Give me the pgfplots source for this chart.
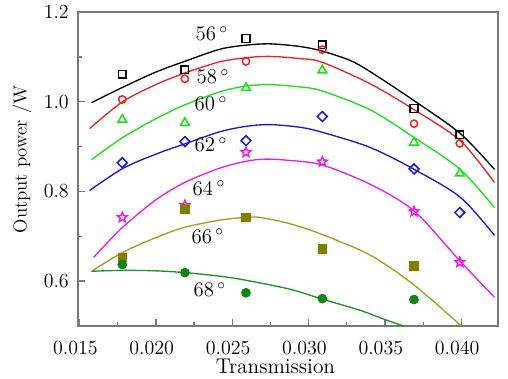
\documentclass[border=0pt]{standalone}
\usepackage{pgfplots}
\pgfplotsset{compat=1.18}
\usetikzlibrary{plotmarks}
\definecolor{framegray}{RGB}{120,120,120}
\definecolor{cred}{RGB}{235,35,35}
\definecolor{cgreen}{RGB}{25,225,25}
\definecolor{cblue}{RGB}{25,25,200}
\definecolor{cmag}{RGB}{230,30,230}
\definecolor{colive}{RGB}{128,128,0}
\definecolor{colivel}{RGB}{160,160,30}
\definecolor{cdgreen}{RGB}{20,130,20}
\definecolor{cdgreenl}{RGB}{30,145,40}
\pgfdeclareplotmark{ostar}{%
  \pgfpathmoveto{\pgfpointpolar{90}{\pgfplotmarksize}}%
  \pgfpathlineto{\pgfpointpolar{126}{0.45\pgfplotmarksize}}%
  \pgfpathlineto{\pgfpointpolar{162}{\pgfplotmarksize}}%
  \pgfpathlineto{\pgfpointpolar{198}{0.45\pgfplotmarksize}}%
  \pgfpathlineto{\pgfpointpolar{234}{\pgfplotmarksize}}%
  \pgfpathlineto{\pgfpointpolar{270}{0.45\pgfplotmarksize}}%
  \pgfpathlineto{\pgfpointpolar{306}{\pgfplotmarksize}}%
  \pgfpathlineto{\pgfpointpolar{342}{0.45\pgfplotmarksize}}%
  \pgfpathlineto{\pgfpointpolar{18}{\pgfplotmarksize}}%
  \pgfpathlineto{\pgfpointpolar{54}{0.45\pgfplotmarksize}}%
  \pgfpathclose\pgfusepathqstroke}
\begin{document}
\begin{tikzpicture}
\begin{axis}[
  scale only axis, width=252pt, height=188.4pt,
  xmin=0.0149, xmax=0.0424, ymin=0.5, ymax=1.2,
  xtick={0.015,0.020,0.025,0.030,0.035,0.040},
  minor xtick={0.0175,0.0225,0.0275,0.0325,0.0375},
  ytick={0.6,0.8,1.0,1.2}, minor ytick={0.7,0.9,1.1},
  scaled x ticks=false, scaled y ticks=false,
  xtick pos=bottom, ytick pos=left, tick align=inside,
  major tick length=4.2pt, minor tick length=2.4pt,
  every tick/.style={framegray, line width=0.8pt},
  axis line style={framegray, line width=1pt},
  x tick label style={/pgf/number format/.cd, fixed, fixed zerofill, precision=3, /tikz/.cd,
    font=\fontsize{11.8}{13}\selectfont, anchor=center, yshift=-13.2pt, xshift=-2.5pt},
  y tick label style={/pgf/number format/.cd, fixed, fixed zerofill, precision=1, /tikz/.cd,
    font=\fontsize{11.8}{13}\selectfont, xshift=-2pt},
  xlabel=Transmission, ylabel={Output power /W},
  every axis x label/.style={at={([yshift=-24pt]axis description cs:0.47,0)}, anchor=center,
    font=\fontsize{12.8}{14}\selectfont},
  every axis y label/.style={at={([xshift=-33.6pt]axis description cs:0,0.53)}, rotate=90, anchor=center,
    font=\fontsize{11.3}{13}\selectfont},
]
\coordinate (sw) at (rel axis cs:0,0);
\coordinate (ne) at (rel axis cs:1,1);
% 56
\addplot[black, line width=0.8pt, smooth, no markers] coordinates {
(0.01579,0.998) (0.01782,1.032) (0.01999,1.066) (0.02189,1.090) (0.02419,1.117) (0.02589,1.126)
(0.02747,1.129) (0.02944,1.123) (0.03088,1.113) (0.03272,1.092) (0.03403,1.067) (0.03692,1.002)
(0.03993,0.929) (0.04217,0.849)};
\addplot[only marks, mark=square, mark size=2.3pt, black, line width=0.9pt] coordinates {
(0.0178,1.061) (0.0219,1.071) (0.0259,1.141) (0.0309,1.127) (0.0369,0.985) (0.0399,0.926)};
% 58
\addplot[cred, line width=0.8pt, smooth, no markers] coordinates {
(0.01566,0.94) (0.01782,1.0) (0.01999,1.038) (0.02189,1.064) (0.02419,1.089) (0.02589,1.098)
(0.02747,1.101) (0.02944,1.096) (0.03088,1.088) (0.03403,1.04) (0.03692,0.982) (0.03993,0.913)
(0.04217,0.82)};
\addplot[only marks, mark=o, mark size=2.2pt, cred, line width=0.9pt] coordinates {
(0.0178,1.005) (0.0219,1.051) (0.0259,1.09) (0.0309,1.116) (0.0369,0.951) (0.0399,0.907)};
% 60
\addplot[cgreen, line width=0.8pt, smooth, no markers] coordinates {
(0.01579,0.871) (0.01782,0.92) (0.01999,0.962) (0.02189,0.993) (0.02419,1.022) (0.02589,1.035)
(0.02747,1.038) (0.02944,1.033) (0.03088,1.024) (0.03403,0.982) (0.03692,0.92) (0.03993,0.849)
(0.04217,0.764)};
\addplot[only marks, mark=triangle, mark size=3pt, cgreen, line width=0.9pt] coordinates {
(0.0178,0.96) (0.0219,0.953) (0.0259,1.031) (0.0309,1.07) (0.0369,0.909) (0.0399,0.84)};
% 62
\addplot[cblue, line width=0.8pt, smooth, no markers] coordinates {
(0.01566,0.802) (0.01782,0.851) (0.01999,0.883) (0.02189,0.906) (0.02419,0.933) (0.02589,0.945)
(0.02747,0.949) (0.02944,0.943) (0.03088,0.932) (0.03403,0.898) (0.03692,0.849) (0.03993,0.787)
(0.04217,0.702)};
\addplot[only marks, mark=square, mark options={rotate=45}, mark size=2.1pt, cblue, line width=0.9pt] coordinates {
(0.0178,0.864) (0.0219,0.911) (0.0259,0.913) (0.0309,0.967) (0.0369,0.85) (0.0399,0.753)};
% 64
\addplot[cmag, line width=0.8pt, smooth, no markers] coordinates {
(0.01592,0.653) (0.01782,0.72) (0.01999,0.781) (0.02189,0.82) (0.02419,0.852) (0.02589,0.867)
(0.02714,0.872) (0.02878,0.869) (0.03088,0.859) (0.03403,0.816) (0.03692,0.756) (0.03993,0.644)
(0.04217,0.564)};
\addplot[only marks, mark=ostar, mark size=3pt, cmag, line width=0.9pt] coordinates {
(0.0178,0.742) (0.0219,0.769) (0.0259,0.887) (0.0309,0.866) (0.0369,0.755) (0.0399,0.642)};
% 66
\addplot[colivel, line width=0.8pt, smooth, no markers] coordinates {
(0.01579,0.622) (0.01782,0.664) (0.01999,0.697) (0.02189,0.72) (0.02419,0.736) (0.02589,0.742)
(0.02681,0.742) (0.02878,0.728) (0.03088,0.704) (0.03403,0.658) (0.03692,0.591) (0.0400,0.5)};
\addplot[only marks, mark=square*, mark size=2.6pt, colive] coordinates {
(0.0178,0.653) (0.0219,0.761) (0.0259,0.742) (0.0309,0.672) (0.0369,0.634)};
% 68
\addplot[cdgreenl, line width=0.8pt, smooth, no markers] coordinates {
(0.01579,0.622) (0.01782,0.624) (0.01999,0.623) (0.02189,0.619) (0.02419,0.611) (0.02589,0.602)
(0.02878,0.582) (0.03088,0.56) (0.03337,0.535) (0.03495,0.515) (0.0362,0.5)};
\addplot[only marks, mark=*, mark size=2.7pt, cdgreen] coordinates {
(0.0178,0.637) (0.0219,0.619) (0.0259,0.574) (0.0309,0.561) (0.0369,0.559)};
% labels
\begin{scope}[every node/.style={font=\fontsize{12.5}{14}\selectfont}]
\node at (axis cs:0.02366,1.151) {56\,$^{\circ}$};
\node at (axis cs:0.02373,1.056) {58\,$^{\circ}$};
\node at (axis cs:0.0236,0.996) {60\,$^{\circ}$};
\node at (axis cs:0.0236,0.904) {62\,$^{\circ}$};
\node at (axis cs:0.02347,0.807) {64\,$^{\circ}$};
\node at (axis cs:0.0234,0.70) {66\,$^{\circ}$};
\node at (axis cs:0.02353,0.58) {68\,$^{\circ}$};
\end{scope}
\end{axis}
\path ([shift={(-46.8pt,-28.8pt)}]sw) rectangle ([shift={(6pt,5.4pt)}]ne);
\end{tikzpicture}
\end{document}
